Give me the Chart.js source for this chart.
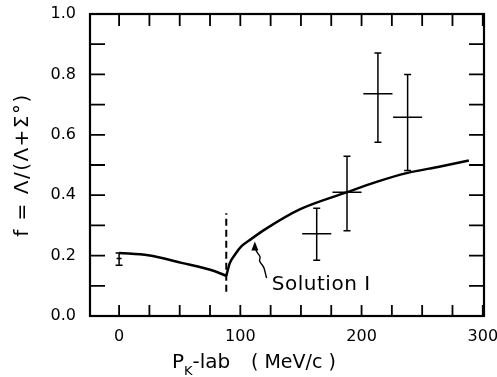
<!DOCTYPE html>
<html>
<head>
<meta charset="utf-8">
<script src="https://cdn.jsdelivr.net/npm/chart.js@4/dist/chart.umd.min.js"></script>
<style>
html,body{margin:0;padding:0;background:#fff;}
canvas{display:block;}
</style>
</head>
<body>
<canvas id="c" width="497" height="377"></canvas>
<script>
// ---- data ----
// Solution I curve, below the threshold cusp
const CURVE_LEFT_X = [0, 24, 51.5, 79, 88.4];
const CURVE_LEFT_Y = [0.209, 0.201, 0.176, 0.148, 0.133];
// Solution I curve, above the threshold cusp
const CURVE_RIGHT_X = [88.4, 91.4, 95.5, 101, 109.3, 120.4, 149, 188, 213, 238, 265, 288.5];
const CURVE_RIGHT_Y = [0.133, 0.176, 0.203, 0.231, 0.256, 0.287, 0.353, 0.410, 0.445, 0.474, 0.495, 0.515];
// threshold marker (dashed vertical line)
const THRESHOLD_X = [88.4, 88.4];
const THRESHOLD_Y = [0.08, 0.34];
// measured points with error bars
const PTS_X    = [0,     163,   188,   213.5, 238];
const PTS_Y    = [0.19,  0.272, 0.41,  0.736, 0.658];
const PTS_YLO  = [0.168, 0.185, 0.282, 0.575, 0.482];
const PTS_YHI  = [0.209, 0.357, 0.529, 0.871, 0.800];
const PTS_XERR = [0,     12,    12,    12,    12];
// axes
const X_TICKS  = [0, 25, 50, 75, 100, 125, 150, 175, 200, 225, 250, 275, 300];
const X_LABELS = ['0', '', '', '', '100', '', '', '', '200', '', '', '', '300'];
const Y_TICKS  = [0, 0.1, 0.2, 0.3, 0.4, 0.5, 0.6, 0.7, 0.8, 0.9, 1.0];
const Y_LABELS = ['0.0', '', '0.2', '', '0.4', '', '0.6', '', '0.8', '', '1.0'];

const zip = (xs, ys) => xs.map((x, i) => ({x: x, y: ys[i]}));
const FONT = 'DejaVu Sans';

const decor = {
  id: 'decor',
  afterDatasetsDraw(chart) {
    const ctx = chart.ctx, xs = chart.scales.x, ys = chart.scales.y, a = chart.chartArea;
    ctx.save();
    ctx.strokeStyle = '#000';
    ctx.fillStyle = '#000';
    // error bars
    ctx.lineWidth = 1.5;
    PTS_X.forEach((x, i) => {
      const px = xs.getPixelForValue(x);
      const py = ys.getPixelForValue(PTS_Y[i]);
      const lo = ys.getPixelForValue(PTS_YLO[i]);
      const hi = ys.getPixelForValue(PTS_YHI[i]);
      ctx.beginPath();
      ctx.moveTo(px, lo); ctx.lineTo(px, hi);
      ctx.moveTo(px - 3.5, lo); ctx.lineTo(px + 3.5, lo);
      ctx.moveTo(px - 3.5, hi); ctx.lineTo(px + 3.5, hi);
      if (PTS_XERR[i] > 0) {
        ctx.moveTo(xs.getPixelForValue(x - PTS_XERR[i]), py);
        ctx.lineTo(xs.getPixelForValue(x + PTS_XERR[i]), py);
      } else {
        ctx.moveTo(px - 2.5, py); ctx.lineTo(px + 2.5, py);
      }
      ctx.stroke();
    });
    // frame
    ctx.lineWidth = 2.2;
    ctx.strokeRect(a.left, a.top, a.right - a.left, a.bottom - a.top);
    // inward ticks
    ctx.lineWidth = 1.8;
    ctx.beginPath();
    X_TICKS.forEach(v => {
      const p = xs.getPixelForValue(v);
      ctx.moveTo(p, a.bottom); ctx.lineTo(p, a.bottom - 11);
      ctx.moveTo(p, a.top); ctx.lineTo(p, a.top + 12);
    });
    Y_TICKS.forEach(v => {
      const p = ys.getPixelForValue(v);
      ctx.moveTo(a.left, p); ctx.lineTo(a.left + 15, p);
      ctx.moveTo(a.right, p); ctx.lineTo(a.right - 15, p);
    });
    ctx.stroke();
    // annotation: Solution I with wavy arrow
    const tx = xs.getPixelForValue(112), ty = ys.getPixelForValue(0.247);
    const wave = [[11.7,36.6],[10,30],[9,25.6],[5.7,21.6],[4.3,19],[5.7,15.6],[3.3,12.3],[1,9],[0,5]];
    ctx.lineWidth = 1.4;
    ctx.beginPath();
    ctx.moveTo(tx + wave[0][0], ty + wave[0][1]);
    for (let i = 1; i < wave.length - 1; i++) {
      const mx = (wave[i][0] + wave[i+1][0]) / 2, my = (wave[i][1] + wave[i+1][1]) / 2;
      ctx.quadraticCurveTo(tx + wave[i][0], ty + wave[i][1], tx + mx, ty + my);
    }
    ctx.lineTo(tx + wave[wave.length-1][0], ty + wave[wave.length-1][1]);
    ctx.stroke();
    ctx.beginPath();
    ctx.moveTo(tx, ty); ctx.lineTo(tx - 3.5, ty + 9); ctx.lineTo(tx + 3.5, ty + 9); ctx.closePath();
    ctx.fill();
    ctx.font = '20px "' + FONT + '"';
    ctx.letterSpacing = '0.5px';
    ctx.textBaseline = 'alphabetic';
    ctx.textAlign = 'left';
    ctx.fillText('Solution I', xs.getPixelForValue(126), ys.getPixelForValue(0.087));
    // y axis title
    ctx.save();
    ctx.translate(23, (a.top + a.bottom) / 2);
    ctx.rotate(-Math.PI / 2);
    ctx.textAlign = 'center';
    ctx.textBaseline = 'middle';
    ctx.letterSpacing = '1.5px';
    ctx.font = '20px "' + FONT + '"';
    ctx.fillText('f = Λ/(Λ+Σ°)', 0, 0);
    ctx.restore();
    // x axis title: P_K-lab ( MeV/c )
    ctx.letterSpacing = '0px';
    let x0 = a.left + 82;
    const base = 368;
    ctx.font = '20px "' + FONT + '"';
    ctx.fillText('P', x0, base);
    x0 += ctx.measureText('P').width;
    ctx.font = '13px "' + FONT + '"';
    ctx.fillText('K', x0, base + 7);
    x0 += ctx.measureText('K').width;
    ctx.font = '20px "' + FONT + '"';
    ctx.fillText('-lab', x0, base);
    ctx.font = '19px "' + FONT + '"';
    ctx.fillText('( MeV/c )', a.left + 161, base);
    ctx.restore();
  }
};

new Chart(document.getElementById('c'), {
  type: 'line',
  data: {
    datasets: [
      {data: zip(CURVE_LEFT_X, CURVE_LEFT_Y), borderColor: '#000', borderWidth: 2.5, pointRadius: 0, cubicInterpolationMode: 'monotone', fill: false},
      {data: zip(CURVE_RIGHT_X, CURVE_RIGHT_Y), borderColor: '#000', borderWidth: 2.5, pointRadius: 0, cubicInterpolationMode: 'monotone', fill: false},
      {data: zip(THRESHOLD_X, THRESHOLD_Y), borderColor: '#000', borderWidth: 2, borderDash: [7, 4], pointRadius: 0, fill: false}
    ]
  },
  options: {
    responsive: false,
    devicePixelRatio: 1,
    animation: false,
    layout: {padding: {top: 14, right: 13, left: 0, bottom: 0}},
    plugins: {legend: {display: false}, tooltip: {enabled: false}},
    scales: {
      x: {
        type: 'linear', min: -24, max: 301,
        afterBuildTicks: s => { s.ticks = X_TICKS.map(v => ({value: v})); },
        afterFit: s => { s.height = 61; s.paddingLeft = 0; s.paddingRight = 0; },
        grid: {display: false},
        border: {display: false},
        ticks: {
          autoSkip: false, maxRotation: 0, padding: 3, color: '#000',
          font: {family: FONT, size: 16},
          callback: (v, i) => X_LABELS[X_TICKS.indexOf(v)] || ''
        }
      },
      y: {
        type: 'linear', min: 0, max: 1,
        afterBuildTicks: s => { s.ticks = Y_TICKS.map(v => ({value: v})); },
        afterFit: s => { s.width = 90; s.paddingTop = 0; s.paddingBottom = 0; },
        grid: {display: false},
        border: {display: false},
        ticks: {
          autoSkip: false, padding: 6, color: '#000',
          font: {family: FONT, size: 16},
          callback: (v, i) => Y_LABELS[i] || ''
        }
      }
    }
  },
  plugins: [decor]
});
</script>
</body>
</html>
